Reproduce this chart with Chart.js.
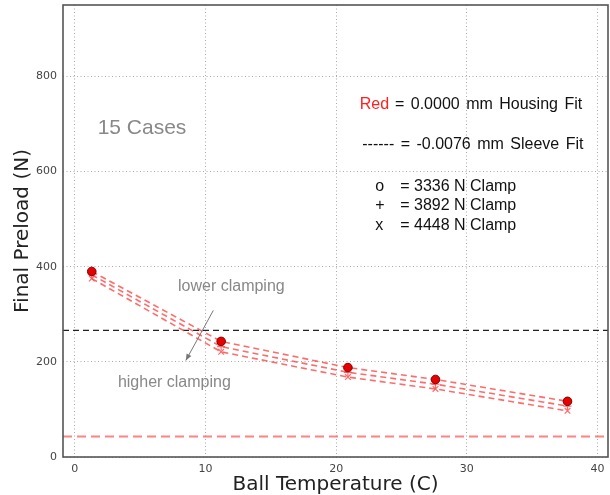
<!DOCTYPE html>
<html>
<head>
<meta charset="utf-8">
<script src="https://cdn.jsdelivr.net/npm/chart.js@4/dist/chart.umd.min.js"></script>
<style>
  html, body { margin: 0; padding: 0; background: #fff; }
  #wrap { width: 610px; height: 495px; position: relative; }
</style>
</head>
<body>
<div id="wrap"><canvas id="c"></canvas></div>
<script>
// Ball temperature (C) for the five cases
const ballTemps = [1.3, 11.2, 20.9, 27.6, 37.7];
// Final preload (N) for each clamp load
const preload3336 = [390, 243, 188, 163, 117];
const preload3892 = [383, 232, 178, 153, 107];
const preload4448 = [375, 221, 168, 143, 97];
// Reference levels (N)
const sleeveFitLevel = 266;
const housingFitLevel = 43;
// Axis tick values
const xTickValues = [0, 10, 20, 30, 40];
const yTickValues = [0, 200, 400, 600, 800];
const xRange = [-0.9, 40.8];
const yRange = [0, 950];

const toPoints = (ys) => ballTemps.map((t, i) => ({ x: t, y: ys[i] }));
const flatLine = (v) => [{ x: xRange[0], y: v }, { x: xRange[1], y: v }];

const lineRed = 'rgba(255,70,70,0.8)';

const datasets = [
  { label: '3336 N Clamp', data: toPoints(preload3336), borderColor: lineRed, borderDash: [6, 4], borderWidth: 1.6,
    pointStyle: 'circle', pointRadius: 4.3, pointBackgroundColor: '#e60000', pointBorderColor: '#7a0000', pointBorderWidth: 1 },
  { label: '3892 N Clamp', data: toPoints(preload3892), borderColor: lineRed, borderDash: [6, 4], borderWidth: 1.6,
    pointStyle: 'cross', pointRadius: 4, pointBorderColor: 'rgba(255,70,70,0.8)', pointBorderWidth: 1.2 },
  { label: '4448 N Clamp', data: toPoints(preload4448), borderColor: lineRed, borderDash: [6, 4], borderWidth: 1.6,
    pointStyle: 'crossRot', pointRadius: 4, pointBorderColor: 'rgba(255,70,70,0.8)', pointBorderWidth: 1.2 },
  { label: 'Sleeve fit level', data: flatLine(sleeveFitLevel), borderColor: '#222', borderDash: [6, 4], borderWidth: 1.2, pointRadius: 0 },
  { label: 'Housing fit level', data: flatLine(housingFitLevel), borderColor: 'rgba(255,90,90,0.75)', borderDash: [9, 5], borderWidth: 2, pointRadius: 0 }
];

const noteFont = (px) => px + 'px "Liberation Sans", Arial, sans-serif';
// Text notes placed in data coordinates: [text, x, y, size, colour, word spacing]
const notes = [
  ['15 Cases', 1.75, 691, 21, '#888', 0],
  ['lower clamping', 7.9, 358, 16, '#888', 0],
  ['higher clamping', 3.3, 156, 16, '#888', 0],
  ['= 0.0000 mm Housing Fit', 24.5, 741, 16, '#111', 2],
  ['------ = -0.0076 mm Sleeve Fit', 22.0, 657, 16, '#111', 2],
  ['o', 23.0, 569, 16, '#111', 0],
  ['+', 23.0, 528, 16, '#111', 0],
  ['x', 23.0, 486, 16, '#111', 0],
  ['= 3336 N Clamp', 24.9, 569, 16, '#111', 0],
  ['= 3892 N Clamp', 24.9, 528, 16, '#111', 0],
  ['= 4448 N Clamp', 24.9, 486, 16, '#111', 0]
];
const redWord = ['Red', 21.8, 741];
const arrowFrom = [10.6, 308];
const arrowTo = [8.5, 203];

const notesPlugin = {
  id: 'notes',
  afterDatasetsDraw(chart) {
    const { ctx, scales: { x, y } } = chart;
    ctx.save();
    ctx.textBaseline = 'middle';
    ctx.textAlign = 'left';
    for (const [t, dx, dy, size, col, ws] of notes) {
      ctx.font = noteFont(size); ctx.fillStyle = col;
      ctx.wordSpacing = ws + 'px';
      ctx.fillText(t, x.getPixelForValue(dx), y.getPixelForValue(dy));
    }
    ctx.wordSpacing = '0px';
    ctx.font = noteFont(16);
    ctx.fillStyle = '#ff2020';
    ctx.fillText(redWord[0], x.getPixelForValue(redWord[1]), y.getPixelForValue(redWord[2]));
    // arrow between the two clamping notes
    const x1 = x.getPixelForValue(arrowFrom[0]), y1 = y.getPixelForValue(arrowFrom[1]);
    const x2 = x.getPixelForValue(arrowTo[0]), y2 = y.getPixelForValue(arrowTo[1]);
    ctx.strokeStyle = '#777'; ctx.fillStyle = '#777'; ctx.lineWidth = 1;
    ctx.beginPath(); ctx.moveTo(x1, y1); ctx.lineTo(x2, y2); ctx.stroke();
    const a = Math.atan2(y2 - y1, x2 - x1), L = 7, w = 0.4;
    ctx.beginPath();
    ctx.moveTo(x2, y2);
    ctx.lineTo(x2 - L * Math.cos(a - w), y2 - L * Math.sin(a - w));
    ctx.lineTo(x2 - L * Math.cos(a + w), y2 - L * Math.sin(a + w));
    ctx.closePath(); ctx.fill();
    ctx.restore();
  },
  afterDraw(chart) {
    const { ctx, chartArea: a } = chart;
    ctx.save();
    ctx.strokeStyle = '#555'; ctx.lineWidth = 1.6;
    ctx.strokeRect(a.left, a.top, a.right - a.left, a.bottom - a.top);
    ctx.restore();
  }
};

new Chart(document.getElementById('c'), {
  type: 'line',
  data: { datasets },
  plugins: [notesPlugin],
  options: {
    responsive: true,
    maintainAspectRatio: false,
    animation: false,
    layout: { autoPadding: false, padding: { top: 5, right: 2, left: 0, bottom: 0 } },
    plugins: { legend: { display: false }, tooltip: { enabled: false } },
    scales: {
      x: {
        type: 'linear', min: xRange[0], max: xRange[1],
        afterFit(s) { s.height = 38; s.paddingLeft = 0; s.paddingRight = 0; },
        afterBuildTicks(s) { s.ticks = xTickValues.map(v => ({ value: v })); },
        ticks: { padding: 6, color: '#444', font: { family: '"DejaVu Sans", sans-serif', size: 11 }, maxRotation: 0 },
        grid: { color: '#aaa', drawTicks: false, lineWidth: 1 },
        border: { display: false, dash: [1, 2.5] },
        title: { display: true, text: 'Ball Temperature (C)', color: '#222',
                 font: { family: '"DejaVu Sans", sans-serif', size: 20, lineHeight: 1 }, padding: { top: 0, bottom: 0 } }
      },
      y: {
        type: 'linear', min: yRange[0], max: yRange[1],
        afterFit(s) { s.width = 63; s.paddingTop = 0; s.paddingBottom = 0; },
        afterBuildTicks(s) { s.ticks = yTickValues.map(v => ({ value: v })); },
        ticks: { padding: 6, color: '#444', font: { family: '"DejaVu Sans", sans-serif', size: 11 } },
        grid: { color: '#aaa', drawTicks: false, lineWidth: 1 },
        border: { display: false, dash: [1, 2.5] },
        title: { display: true, text: 'Final Preload (N)', color: '#222',
                 font: { family: '"DejaVu Sans", sans-serif', size: 20, lineHeight: 1 }, padding: { top: 13, bottom: 0 } }
      }
    }
  }
});
</script>
</body>
</html>
